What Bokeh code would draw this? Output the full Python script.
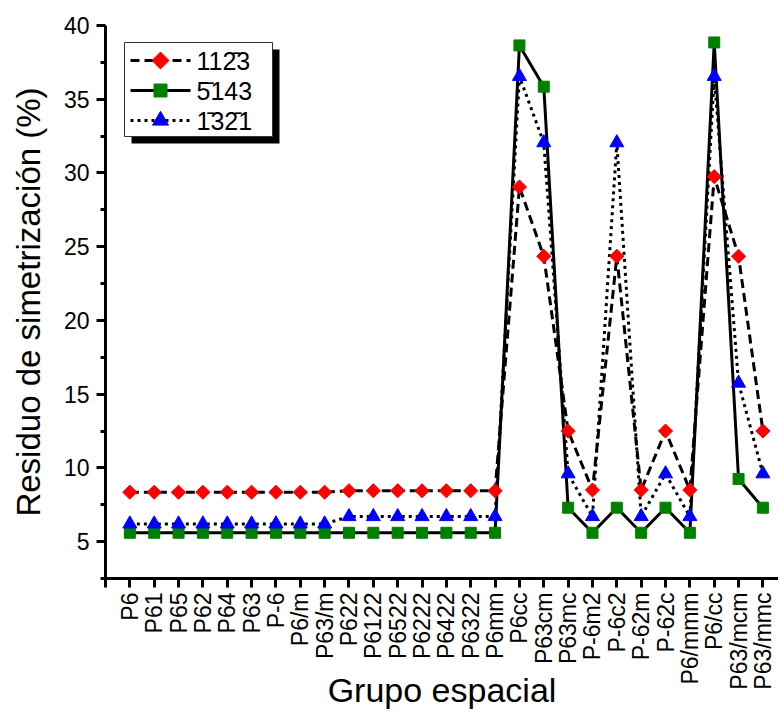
from math import pi

from bokeh.core.properties import value
from bokeh.embed import file_html
from bokeh.models import FixedTicker, Range1d
from bokeh.plotting import figure
from bokeh.resources import INLINE

# Hexagonal space groups tested for each crystal orientation
groups = ["P6", "P61", "P65", "P62", "P64", "P63", "P-6", "P6/m", "P63/m",
          "P622", "P6122", "P6522", "P6222", "P6422", "P6322", "P6mm", "P6cc",
          "P63cm", "P63mc", "P-6m2", "P-6c2", "P-62m", "P-62c", "P6/mmm",
          "P6/cc", "P63/mcm", "P63/mmc"]

# Symmetrization residue (%) per orientation
res_a = [8.35, 8.35, 8.35, 8.35, 8.35, 8.35, 8.35, 8.35, 8.35,
         8.45, 8.45, 8.45, 8.45, 8.45, 8.45, 8.45, 29.05,
         24.35, 12.5, 8.5, 24.35, 8.5, 12.5, 8.5,
         29.75, 24.35, 12.5]
res_b = [5.6, 5.6, 5.6, 5.6, 5.6, 5.6, 5.6, 5.6, 5.6,
         5.6, 5.6, 5.6, 5.6, 5.6, 5.6, 5.6, 38.65,
         35.85, 7.3, 5.6, 7.3, 5.6, 7.3, 5.6,
         38.85, 9.25, 7.3]
res_c = [6.2, 6.2, 6.2, 6.2, 6.2, 6.2, 6.2, 6.2, 6.2,
         6.7, 6.7, 6.7, 6.7, 6.7, 6.7, 6.7, 36.55,
         32.05, 9.6, 6.7, 32.05, 6.7, 9.6, 6.7,
         36.55, 15.75, 9.6]

labels = ["11" + "2\u0304" + "3", "5\u0304" + "143", "1\u0304" + "3" + "2\u0304" + "1"]

y_ticks = [5, 10, 15, 20, 25, 30, 35, 40]
y_minor = [2.5, 7.5, 12.5, 17.5, 22.5, 27.5, 32.5, 37.5]

x = list(range(1, len(groups) + 1))

FONT = "Liberation Sans"
W, H = 778, 719
LEFT, TOP, BOTTOM = 105, 25, 141
X_END = 27.64
Y0, Y1 = 2.5, 40

# per-series styling: (line dash, marker, marker size, angle, colour)
styles = [
    ("9 5", "square", 10, pi / 4, "#ff0000"),
    ("solid", "square", 11, 0.0, "#008000"),
    ("3 4", "triangle", 14, 0.0, "#0000ff"),
]
series = [res_a, res_b, res_c]

p = figure(width=W, height=H, output_backend="svg", toolbar_location=None,
           x_range=Range1d(0, X_END), y_range=Range1d(Y0, Y1),
           min_border_left=LEFT, min_border_right=0,
           min_border_top=TOP, min_border_bottom=BOTTOM)
p.outline_line_color = None
p.grid.visible = False
p.background_fill_color = "white"
p.border_fill_color = "white"

# lines first, markers on top
for ys, (dash, *_rest) in zip(series, styles):
    p.line(x, ys, line_color="black", line_width=3, line_dash=dash)
for ys, (_d, marker, size, angle, color) in zip(series, styles):
    p.scatter(x, ys, marker=marker, size=size, angle=angle,
              fill_color=color, line_color=color)

# x axis: one tick per space group, plus the origin tick
xa = p.xaxis[0]
xa.ticker = FixedTicker(ticks=[0] + x)
overrides = {0: ""}
for i, g in zip(x, groups):
    overrides[i] = g
xa.major_label_overrides = overrides
xa.major_label_orientation = pi / 2
xa.major_label_standoff = 5
xa.major_label_text_font = FONT
xa.major_label_text_font_size = "23px"
xa.major_label_text_color = "black"
xa.major_tick_out = 9
xa.major_tick_in = 0
xa.major_tick_line_width = 3
xa.axis_line_width = 3
xa.axis_label = "Grupo espacial"
xa.axis_label_text_font = FONT
xa.axis_label_text_font_size = "34px"
xa.axis_label_text_font_style = "normal"
xa.axis_label_text_color = "black"
xa.axis_label_standoff = -22

ya = p.yaxis[0]
ya.ticker = FixedTicker(ticks=y_ticks, minor_ticks=y_minor)
ya.major_label_standoff = 7
ya.major_label_text_font = FONT
ya.major_label_text_font_size = "23px"
ya.major_label_text_color = "black"
ya.major_tick_out = 9
ya.major_tick_in = 0
ya.minor_tick_out = 5
ya.minor_tick_in = 0
ya.major_tick_line_width = 3
ya.minor_tick_line_width = 3
ya.axis_line_width = 3
ya.axis_label = "Residuo de simetrización (%)"
ya.axis_label_text_font = FONT
ya.axis_label_text_font_size = "33px"
ya.axis_label_text_font_style = "normal"
ya.axis_label_text_color = "black"
ya.axis_label_standoff = 14

# ---- framed legend with drop shadow, laid out in pixels ----
frame_w = W - LEFT
frame_h = H - TOP - BOTTOM


def dx(px):
    return (px - LEFT) * X_END / frame_w


def dy(py):
    return Y1 - (py - TOP) * (Y1 - Y0) / frame_h


BOX_L, BOX_T, BOX_R, BOX_B = 124, 42, 272, 136
SHADOW = 7
ROWS = [60, 90, 120]
SAMPLE_L, SAMPLE_R, TEXT_X = 130, 190, 196

p.quad(left=dx(BOX_L + SHADOW), right=dx(BOX_R + SHADOW),
       top=dy(BOX_T + SHADOW), bottom=dy(BOX_B + SHADOW),
       fill_color="black", line_color=None)
p.quad(left=dx(BOX_L), right=dx(BOX_R), top=dy(BOX_T), bottom=dy(BOX_B),
       fill_color="white", line_color="#333333", line_width=1)

for row, (dash, marker, size, angle, color) in zip(ROWS, styles):
    p.line([dx(SAMPLE_L), dx(SAMPLE_R)], [dy(row), dy(row)],
           line_color="black", line_width=3, line_dash=dash)
    p.scatter([dx((SAMPLE_L + SAMPLE_R) / 2)], [dy(row)], marker=marker,
              size=size + 2, angle=angle, fill_color=color, line_color=color)

p.text(x=[dx(TEXT_X)] * 3, y=[dy(r) for r in ROWS], text=labels,
       text_align="left", text_baseline="middle",
       text_font=value(FONT), text_font_size="25px", text_color="black")

open("out.html", "w").write(file_html(p, INLINE))
